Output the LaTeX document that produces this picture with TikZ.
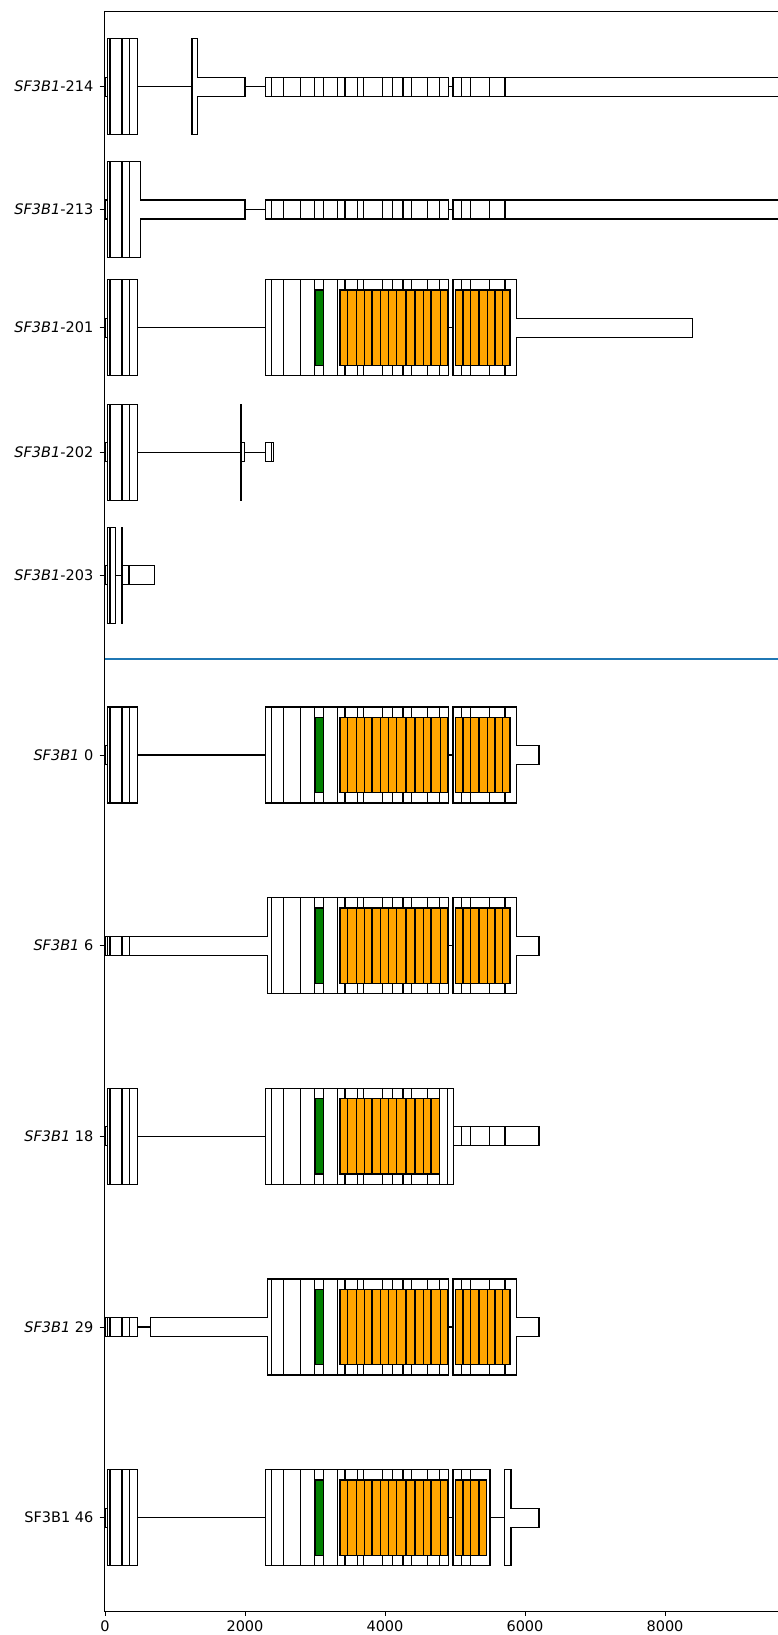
\documentclass[tikz,border=0pt]{standalone}
\usepackage{fontspec}
\setmainfont{DejaVu Sans}[ItalicFont={DejaVu Sans Oblique}]
\definecolor{heatorange}{HTML}{FFA500}
\definecolor{motifgreen}{HTML}{008000}
\definecolor{splitblue}{HTML}{1F77B4}

% exon shapes, y grows downwards, #3/#4 = row centre
\newcommand\exonTall[3]{\draw[exon] (#1,#3-48) rectangle (#2,#3+48);}
\newcommand\exonThin[3]{\draw[exon] (#1,#3-9.5) rectangle (#2,#3+9.5);}
\newcommand\intronAt[3]{\draw[intron] (#1,#3) -- (#2,#3);}
\newcommand\seams[3]{\foreach \sx in {#1} {\draw[seam] (\sx,#2-#3) -- (\sx,#2+#3);}}
\newcommand\tallThin[4]{\draw[exon] (#1,#4-48) -- (#2,#4-48) -- (#2,#4-9.5) -- (#3,#4-9.5) -- (#3,#4+9.5) -- (#2,#4+9.5) -- (#2,#4+48) -- (#1,#4+48) -- cycle;}
\newcommand\thinTall[4]{\draw[exon] (#1,#4-9.5) -- (#2,#4-9.5) -- (#2,#4-48) -- (#3,#4-48) -- (#3,#4+48) -- (#2,#4+48) -- (#2,#4+9.5) -- (#1,#4+9.5) -- cycle;}

% recurring pieces
\newcommand\firstExons[1]{\exonThin{105}{108.3}{#1}\exonTall{107.7}{137.3}{#1}\seams{110,122,129.3}{#1}{48}}
\newcommand\midSeams[2]{\seams{271.3,283.3,300.7,314.7,323.3,337.7,345,357.3,363.3,382.3,392.5,403,411.7,427.7,439.7}{#1}{#2}}
\newcommand\tailBlock[2]{\intronAt{448.3}{452.3}{#1}\exonTall{452.3}{505}{#1}\seams{453.5,461.7,470.3,489.7}{#1}{48}\tallThin{505}{516.3}{#2}{#1}}
\newcommand\motifBox[1]{\draw[motif] (315.3,#1-37.7) rectangle (323.7,#1+37.7);}
\newcommand\heatRun[2]{\foreach \ha/\hb in {#2} {\draw[heat] (\ha,#1-37.7) rectangle (\hb,#1+37.7);}}
\newcommand\heatMain[1]{\heatRun{#1}{340/347.7,347.7/356.7,356.7/364.7,364.7/372,372/380.3,380.3/388.3,388.3/396.7,396.7/406,406/415,415/423.3,423.3/431,431/440.7,440.7/447.7}}
\newcommand\heatTail[1]{\heatRun{#1}{455.3/463,463/470.7,470.7/479,479/487.3,487.3/495,495/502.7,502.7/510}}

\begin{document}
\begin{tikzpicture}[x=1pt,y=-1pt,
  exon/.style={draw=black,fill=white,line width=1.25pt},
  seam/.style={draw=black,line width=1.25pt},
  intron/.style={draw=black,line width=1.25pt},
  heat/.style={draw=black,fill=heatorange,line width=1.25pt},
  motif/.style={draw=black,fill=motifgreen,line width=1.25pt},
  spine/.style={draw=black,line width=0.9pt},
  tickmark/.style={draw=black,line width=0.9pt},
  rowlabel/.style={anchor=east,inner sep=0pt,font=\fontsize{14.5}{17}\selectfont},
  axlabel/.style={anchor=north,inner sep=0pt,font=\fontsize{14.5}{17}\selectfont},
]
\useasboundingbox (0,0) rectangle (778,1635);
\clip (0,0) rectangle (778,1635);
\fill[white] (0,0) rectangle (778,1635);

% ---------- SF3B1-214 ----------
\firstExons{86.7}
\intronAt{137.3}{192}{86.7}
\tallThin{192}{197.3}{245}{86.7}
\intronAt{245}{265.7}{86.7}
\exonThin{265.7}{448.3}{86.7}
\midSeams{86.7}{9.5}
\intronAt{448.3}{452.3}{86.7}
\exonThin{452.3}{800}{86.7}
\seams{453.5,461.7,470.3,489.7,505}{86.7}{9.5}

% ---------- SF3B1-213 ----------
\exonThin{105}{108.3}{209.5}
\tallThin{107.7}{140.7}{245}{209.5}
\seams{110,122,129.3}{209.5}{48}
\intronAt{245}{265.7}{209.5}
\exonThin{265.7}{448.3}{209.5}
\midSeams{209.5}{9.5}
\intronAt{448.3}{452.3}{209.5}
\exonThin{452.3}{800}{209.5}
\seams{453.5,461.7,470.3,489.7,505}{209.5}{9.5}

% ---------- SF3B1-201 ----------
\firstExons{327.7}
\intronAt{137.3}{265.7}{327.7}
\exonTall{265.7}{448.3}{327.7}
\midSeams{327.7}{48}
\tailBlock{327.7}{692.5}
\motifBox{327.7}
\heatMain{327.7}
\heatTail{327.7}

% ---------- SF3B1-202 ----------
\firstExons{452.3}
\intronAt{137.3}{240.3}{452.3}
\exonThin{241}{244.7}{452.3}
\exonTall{240.3}{241.5}{452.3}
\intronAt{244.7}{265.7}{452.3}
\exonThin{265.7}{271.5}{452.3}
\exonThin{271.5}{273.3}{452.3}

% ---------- SF3B1-203 ----------
\exonThin{105}{108.3}{575.2}
\exonTall{107.7}{115.7}{575.2}
\seams{110}{575.2}{48}
\intronAt{115.7}{121.7}{575.2}
\exonThin{122}{154.3}{575.2}
\seams{129}{575.2}{9.5}
\exonTall{121.7}{122.3}{575.2}

% separator between the two groups
\draw[splitblue,line width=2pt] (104,659.3) -- (800,659.3);

% ---------- SF3B1 0 ----------
\firstExons{755}
\intronAt{137.3}{265.7}{755}
\exonTall{265.7}{448.3}{755}
\midSeams{755}{48}
\tailBlock{755}{539}
\motifBox{755}
\heatMain{755}
\heatTail{755}

% ---------- SF3B1 6 ----------
\thinTall{105}{267.3}{448.3}{945.7}
\seams{107.3,110,122,129.3}{945.7}{9.5}
\midSeams{945.7}{48}
\tailBlock{945.7}{539}
\motifBox{945.7}
\heatMain{945.7}
\heatTail{945.7}

% ---------- SF3B1 18 ----------
\firstExons{1136.3}
\intronAt{137.3}{265.7}{1136.3}
\exonTall{265.7}{453.7}{1136.3}
\midSeams{1136.3}{48}
\seams{447.7}{1136.3}{48}
\exonThin{453.7}{539}{1136.3}
\seams{461.7,470.3,489.7,505}{1136.3}{9.5}
\motifBox{1136.3}
\heatRun{1136.3}{340/347.7,347.7/356.7,356.7/364.7,364.7/372,372/380.3,380.3/388.3,388.3/396.7,396.7/406,406/415,415/423.3,423.3/431,431/439.3}

% ---------- SF3B1 29 ----------
\exonThin{105}{137.3}{1327}
\seams{107.3,110,122,129.3}{1327}{9.5}
\intronAt{137.3}{150.7}{1327}
\thinTall{150.7}{267.3}{448.3}{1327}
\midSeams{1327}{48}
\tailBlock{1327}{539}
\motifBox{1327}
\heatMain{1327}
\heatTail{1327}

% ---------- SF3B1 46 ----------
\firstExons{1517.7}
\intronAt{137.3}{265.7}{1517.7}
\exonTall{265.7}{448.3}{1517.7}
\midSeams{1517.7}{48}
\intronAt{448.3}{452.3}{1517.7}
\exonTall{452.3}{490}{1517.7}
\seams{453.5,461.7,470.7}{1517.7}{48}
\intronAt{490}{504.7}{1517.7}
\tallThin{504.7}{511}{539}{1517.7}
\motifBox{1517.7}
\heatMain{1517.7}
\heatRun{1517.7}{455.3/463,463/470.7,470.7/479,479/486.7}

% ---------- axes ----------
\draw[spine] (104,11) -- (104,1611.7);
\draw[spine] (104,11) -- (800,11);
\draw[spine] (104,1611.7) -- (800,1611.7);

\foreach \ty in {86.7,209.5,327.7,452.3,575.2,755,945.7,1136.3,1327,1517.7}
  {\draw[tickmark] (99.5,\ty) -- (104,\ty);}
\foreach \tx in {105,245,385,525,665}
  {\draw[tickmark] (\tx,1611.7) -- (\tx,1615.5);}

\node[rowlabel] (lab214) at (93.5,86.7) {\textit{SF3B1}-214};
\node[rowlabel] (lab213) at (93.5,209.5) {\textit{SF3B1}-213};
\node[rowlabel] (lab201) at (93.5,327.7) {\textit{SF3B1}-201};
\node[rowlabel] (lab202) at (93.5,452.3) {\textit{SF3B1}-202};
\node[rowlabel] (lab203) at (93.5,575.2) {\textit{SF3B1}-203};
\node[rowlabel] (labA) at (93.5,755) {\textit{SF3B1} 0};
\node[rowlabel] (labB) at (93.5,945.7) {\textit{SF3B1} 6};
\node[rowlabel] (labC) at (93.5,1136.3) {\textit{SF3B1} 18};
\node[rowlabel] (labD) at (93.5,1327) {\textit{SF3B1} 29};
\node[rowlabel] (labE) at (93.5,1517.7) {SF3B1 46};

\node[axlabel] (x0) at (105,1620.5) {0};
\node[axlabel] (x2) at (245,1620.5) {2000};
\node[axlabel] (x4) at (385,1620.5) {4000};
\node[axlabel] (x6) at (525,1620.5) {6000};
\node[axlabel] (x8) at (665,1620.5) {8000};
\end{tikzpicture}
\end{document}
